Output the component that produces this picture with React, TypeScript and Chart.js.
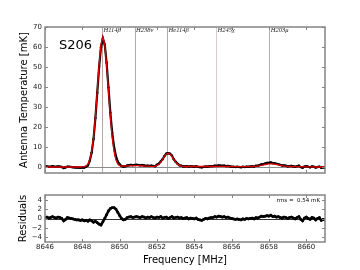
import React, { useEffect, useRef } from "react";
import { Chart, registerables } from "chart.js";

Chart.register(...registerables);

// ---- channel grid (MHz) ----
const FREQ_START = 8646.0;
const FREQ_STEP = 0.1;

// ---- observed spectrum (mK), one value per 0.1 MHz channel from 8646.0 to 8661.0 ----
const dataMK = [
  0.2, 0.3, 0.1, 0.2, 0.4, 0.2, 0.1, 0.3, 0.2, 0.0,
  -0.5, -0.2, 0.2, 0.1, 0.0, -0.1, -0.2, -0.3, -0.3, -0.4,
  -0.25, -0.3, 0.1, 0.8, 3.2, 7.2, 14.0, 24.5, 37.2, 50.1,
  59.9, 64.3, 61.3, 52.1, 39.7, 27.2, 17.1, 10.0, 5.5, 2.75,
  1.3, 0.5, 0.15, 0.3, 0.75, 0.9, 1.05, 0.9, 1.0, 1.1,
  1.0, 0.85, 1.0, 0.8, 0.55, 0.7, 0.5, 0.7, 0.5, 0.4,
  1.1, 1.6, 2.8, 3.9, 5.5, 6.7, 6.9, 6.6, 5.7, 3.9,
  2.6, 1.7, 0.9, 0.65, 0.3, 0.35, 0.45, 0.15, 0.35, 0.25,
  0.15, 0.35, 0.05, -0.05, -0.15, 0.05, 0.25, 0.15, 0.35, 0.45,
  0.45, 0.65, 0.55, 0.8, 0.7, 0.6, 0.7, 0.45, 0.55, 0.35,
  0.2, 0.1, 0.0, 0.1, 0.0, -0.1, 0.1, 0.0, 0.2, 0.1,
  0.23, 0.36, 0.21, 0.59, 0.6, 0.95, 1.34, 1.44, 1.75, 2.03,
  2.06, 2.3, 1.96, 1.93, 1.55, 1.44, 1.04, 0.75, 0.8, 0.59,
  0.31, 0.46, 0.53, 0.31, 0.1, 0.4, 0.6, -0.05, -0.4, 0.2,
  0.4, 0.1, -0.15, 0.25, 0.1, -0.3, 0.0, 0.2, -0.4, -0.2,
  -0.3,
];

// ---- fitted model (mK) ----
const modelMK = [
  0, 0, 0, 0, 0, 0, 0, 0, 0, 0,
  0, 0, 0, 0, 0, 0, 0, 0, 0, 0,
  0.05, 0.2, 0.5, 1.4, 3.5, 7.7, 14.8, 25.1, 38.1, 51.3,
  61.3, 65.0, 61.3, 51.3, 38.1, 25.1, 14.8, 7.7, 3.5, 1.45,
  0.7, 0.5, 0.45, 0.5, 0.55, 0.6, 0.65, 0.7, 0.7, 0.7,
  0.7, 0.65, 0.6, 0.5, 0.45, 0.4, 0.3, 0.3, 0.3, 0.3,
  0.8, 1.4, 2.4, 3.8, 5.3, 6.4, 6.9, 6.4, 5.3, 3.8,
  2.4, 1.4, 0.8, 0.45, 0.3, 0.25, 0.25, 0.25, 0.25, 0.25,
  0.25, 0.25, 0.25, 0.25, 0.25, 0.25, 0.25, 0.25, 0.25, 0.25,
  0.25, 0.25, 0.25, 0.3, 0.3, 0.3, 0.3, 0.25, 0.25, 0.25,
  0.2, 0.2, 0.2, 0.2, 0.2, 0.2, 0.2, 0.2, 0.2, 0.2,
  0.23, 0.26, 0.31, 0.39, 0.5, 0.65, 0.84, 1.04, 1.25, 1.43,
  1.56, 1.6, 1.56, 1.43, 1.25, 1.04, 0.84, 0.65, 0.5, 0.39,
  0.31, 0.26, 0.23, 0.21, 0.2, 0.2, 0.2, 0.15, 0.1, 0.1,
  0.1, 0.1, 0.05, 0.05, 0, 0, 0, 0, 0, 0,
  0,
];

// ---- residuals (mK) ----
const residMK = [
  0.2, 0.3, 0.1, 0.2, 0.4, 0.2, 0.1, 0.3, 0.2, 0.0,
  -0.5, -0.2, 0.2, 0.1, 0.0, -0.1, -0.2, -0.3, -0.3, -0.4,
  -0.3, -0.5, -0.4, -0.6, -0.3, -0.5, -0.8, -0.6, -0.9, -1.2,
  -1.4, -0.7, 0.0, 0.8, 1.6, 2.1, 2.3, 2.3, 2.0, 1.3,
  0.6, 0.0, -0.3, -0.2, 0.2, 0.3, 0.4, 0.2, 0.3, 0.4,
  0.3, 0.2, 0.4, 0.3, 0.1, 0.3, 0.2, 0.4, 0.2, 0.1,
  0.3, 0.2, 0.4, 0.1, 0.2, 0.3, 0.0, 0.2, 0.4, 0.1,
  0.2, 0.3, 0.1, 0.2, 0.0, 0.1, 0.2, -0.1, 0.1, 0.0,
  -0.1, 0.1, -0.2, -0.3, -0.4, -0.2, 0.0, -0.1, 0.1, 0.2,
  0.2, 0.4, 0.3, 0.5, 0.4, 0.3, 0.4, 0.2, 0.3, 0.1,
  0.0, -0.1, -0.2, -0.1, -0.2, -0.3, -0.1, -0.2, 0.0, -0.1,
  0.0, 0.1, -0.1, 0.2, 0.1, 0.3, 0.5, 0.4, 0.5, 0.6,
  0.5, 0.7, 0.4, 0.5, 0.3, 0.4, 0.2, 0.1, 0.3, 0.2,
  0.0, 0.2, 0.3, 0.1, -0.1, 0.2, 0.4, -0.2, -0.5, 0.1,
  0.3, 0.0, -0.2, 0.2, 0.1, -0.3, 0.0, 0.2, -0.4, -0.2,
  -0.3,
];

// ---- recombination line markers ----
const lineNames = ["H114β", "H238ν", "He114β", "H245χ", "H203μ"];
const lineFreqs = [8649.06, 8650.8, 8652.54, 8655.16, 8658.02];
const lineColors = ["#c0a4a4", "#c0a4a4", "#c0a4a4", "#d6cccc", "#c0acac"];

// ---- ticks / labels ----
const xTicks = [8646, 8648, 8650, 8652, 8654, 8656, 8658, 8660];
const topYTicks = [0, 10, 20, 30, 40, 50, 60, 70];
const resYTicks = [-4, -2, 0, 2, 4];
const sourceName = "S206";
const rmsText = "rms =  0.54 mK";
const xTitle = "Frequency [MHz]";
const topYTitle = "Antenna Temperature [mK]";
const resYTitle = "Residuals";

const freqs = dataMK.map((_, i) => +(FREQ_START + i * FREQ_STEP).toFixed(1));
const toPts = (arr: number[]) => arr.map((v, i) => ({ x: freqs[i], y: v }));

const FRAME = "#848484";
const TICKCOL = "#1a1a1a";
const SANS = "'DejaVu Sans', sans-serif";

function framePlugin(xt: number[], yt: number[]) {
  return {
    id: "frame",
    afterDatasetsDraw(chart: any) {
      const { ctx, chartArea, scales } = chart;
      const { left, right, top, bottom } = chartArea;
      const x = scales.x;
      const y = scales.y;
      ctx.save();
      ctx.strokeStyle = FRAME;
      ctx.lineWidth = 1;
      const L = 3;
      ctx.beginPath();
      xt.forEach((v) => {
        const p = Math.round(x.getPixelForValue(v)) + 0.5;
        ctx.moveTo(p, bottom);
        ctx.lineTo(p, bottom - L);
        ctx.moveTo(p, top);
        ctx.lineTo(p, top + L);
      });
      yt.forEach((v) => {
        const p = Math.round(y.getPixelForValue(v)) + 0.5;
        ctx.moveTo(left, p);
        ctx.lineTo(left + L, p);
        ctx.moveTo(right, p);
        ctx.lineTo(right - L, p);
      });
      ctx.stroke();
      ctx.lineWidth = 1.5;
      ctx.strokeRect(left, top, right - left, bottom - top);
      ctx.restore();
    },
  };
}

function zeroLinePlugin(color: string, width: number) {
  return {
    id: "zeroLine",
    beforeDatasetsDraw(chart: any) {
      const { ctx, chartArea, scales } = chart;
      const p = Math.round(scales.y.getPixelForValue(0)) + 0.5;
      ctx.save();
      ctx.strokeStyle = color;
      ctx.lineWidth = width;
      ctx.beginPath();
      ctx.moveTo(chartArea.left, p);
      ctx.lineTo(chartArea.right, p);
      ctx.stroke();
      ctx.restore();
    },
  };
}

const markerPlugin = {
  id: "markers",
  beforeDatasetsDraw(chart: any) {
    const { ctx, chartArea, scales } = chart;
    ctx.save();
    ctx.lineWidth = 1;
    lineFreqs.forEach((f, i) => {
      const p = Math.round(scales.x.getPixelForValue(f)) + 0.5;
      ctx.strokeStyle = lineColors[i];
      ctx.beginPath();
      ctx.moveTo(p, chartArea.top);
      ctx.lineTo(p, chartArea.bottom);
      ctx.stroke();
    });
    ctx.restore();
  },
  afterDraw(chart: any) {
    const { ctx, chartArea, scales } = chart;
    ctx.save();
    ctx.fillStyle = "#222";
    ctx.font = "italic 6.5px 'Liberation Serif', serif";
    ctx.textAlign = "left";
    ctx.textBaseline = "alphabetic";
    lineFreqs.forEach((f, i) => {
      const p = scales.x.getPixelForValue(f);
      ctx.fillText(lineNames[i], p + 1.5, chartArea.top + 4.5);
    });
    ctx.fillStyle = "#000";
    ctx.font = `13px ${SANS}`;
    ctx.fillText(sourceName, 59, 49);
    ctx.restore();
  },
};

const rmsPlugin = {
  id: "rms",
  afterDraw(chart: any) {
    const { ctx, chartArea } = chart;
    ctx.save();
    ctx.fillStyle = "#000";
    ctx.font = `5.5px ${SANS}`;
    ctx.textAlign = "right";
    ctx.textBaseline = "middle";
    ctx.fillText(rmsText, chartArea.right - 5, chartArea.top + 6);
    ctx.restore();
  },
};

export default function App() {
  const topRef = useRef<HTMLCanvasElement>(null);
  const botRef = useRef<HTMLCanvasElement>(null);

  useEffect(() => {
    const top = new Chart(topRef.current as HTMLCanvasElement, {
      type: "line",
      data: {
        datasets: [
          {
            data: toPts(modelMK),
            borderColor: "#e00000",
            borderWidth: 1.3,
            pointRadius: 0,
            tension: 0,
          },
          {
            data: toPts(dataMK),
            borderColor: "#000",
            borderWidth: 2.2,
            pointRadius: 1.2,
            pointBackgroundColor: "#000",
            pointBorderWidth: 0,
            tension: 0,
          },
        ],
      },
      options: {
        animation: false,
        responsive: false,
        events: [],
        layout: { padding: { left: 0, top: 27, right: 35, bottom: 97 } },
        plugins: { legend: { display: false }, tooltip: { enabled: false } },
        scales: {
          x: { type: "linear", min: 8646, max: 8661, display: false },
          y: {
            type: "linear",
            min: -3,
            max: 70,
            grid: { display: false, drawTicks: false },
            border: { display: false },
            afterBuildTicks: (s: any) => {
              s.ticks = topYTicks.map((v) => ({ value: v }));
            },
            afterFit: (s: any) => {
              s.width = 45;
            },
            ticks: {
              padding: 3,
              color: TICKCOL,
              font: { family: SANS, size: 7 },
              callback: (v: any) => String(v),
            },
            title: {
              display: true,
              text: topYTitle,
              color: "#000",
              font: { family: SANS, size: 10 },
              padding: { top: 18, bottom: 0 },
            },
          },
        },
      },
      plugins: [markerPlugin, zeroLinePlugin("#8a8a8a", 1), framePlugin(xTicks, topYTicks)],
    } as any);

    const bot = new Chart(botRef.current as HTMLCanvasElement, {
      type: "line",
      data: {
        datasets: [
          {
            data: toPts(residMK),
            borderColor: "#000",
            borderWidth: 2.6,
            pointRadius: 1.4,
            pointBackgroundColor: "#000",
            pointBorderWidth: 0,
            tension: 0,
          },
        ],
      },
      options: {
        animation: false,
        responsive: false,
        events: [],
        layout: { padding: { left: 0, top: 195, right: 35, bottom: 0 } },
        plugins: { legend: { display: false }, tooltip: { enabled: false } },
        scales: {
          x: {
            type: "linear",
            min: 8646,
            max: 8661,
            grid: { display: false, drawTicks: false },
            border: { display: false },
            afterBuildTicks: (s: any) => {
              s.ticks = xTicks.map((v) => ({ value: v }));
            },
            afterFit: (s: any) => {
              s.height = 28;
            },
            ticks: {
              padding: 1,
              maxRotation: 0,
              color: TICKCOL,
              font: { family: SANS, size: 7 },
              callback: (v: any) => String(v),
            },
            title: {
              display: true,
              text: xTitle,
              color: "#000",
              font: { family: SANS, size: 10 },
              padding: { top: 0, bottom: 4 },
            },
          },
          y: {
            type: "linear",
            min: -5,
            max: 5,
            grid: { display: false, drawTicks: false },
            border: { display: false },
            afterBuildTicks: (s: any) => {
              s.ticks = resYTicks.map((v) => ({ value: v }));
            },
            afterFit: (s: any) => {
              s.width = 45;
            },
            ticks: {
              padding: 3,
              color: TICKCOL,
              font: { family: SANS, size: 7 },
              callback: (v: any) => (v < 0 ? "\u2212" + Math.abs(v) : String(v)),
            },
            title: {
              display: true,
              text: resYTitle,
              color: "#000",
              font: { family: SANS, size: 10 },
              padding: { top: 17, bottom: 0 },
            },
          },
        },
      },
      plugins: [zeroLinePlugin("#000", 0.8), framePlugin(xTicks, resYTicks), rmsPlugin],
    } as any);

    return () => {
      top.destroy();
      bot.destroy();
    };
  }, []);

  const cstyle: React.CSSProperties = { position: "absolute", left: 0, top: 0, display: "block" };
  return (
    <div style={{ position: "fixed", left: 0, top: 0, width: 360, height: 270, background: "#fff" }}>
      <canvas ref={topRef} width={360} height={270} style={cstyle} />
      <canvas ref={botRef} width={360} height={270} style={cstyle} />
    </div>
  );
}
